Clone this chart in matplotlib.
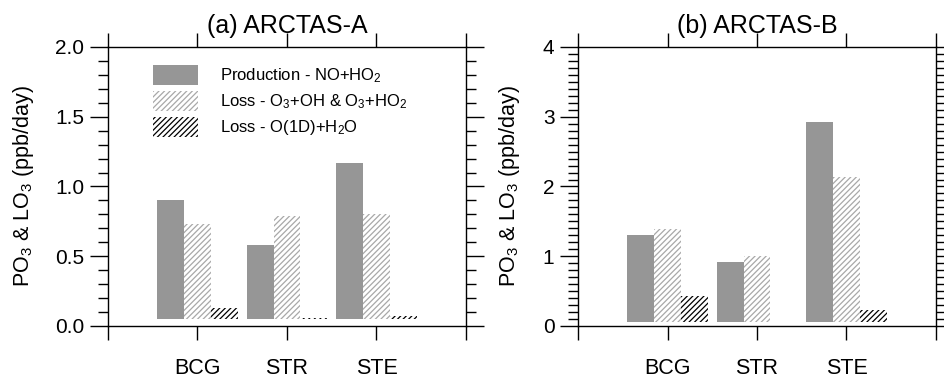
import numpy as np
import matplotlib
matplotlib.use('Agg')
import matplotlib.pyplot as plt
from matplotlib.patches import Patch
from matplotlib.ticker import MultipleLocator

plt.rcParams['font.family'] = ['Liberation Sans', 'DejaVu Sans']
plt.rcParams['mathtext.default'] = 'regular'
plt.rcParams['hatch.linewidth'] = 0.9

# data (bar tops, ppb/day)
regions = ['BCG', 'STR', 'STE']
prod_a = [0.90, 0.58, 1.17]
loss1_a = [0.73, 0.79, 0.80]
loss2_a = [0.13, 0.06, 0.07]
prod_b = [1.31, 0.92, 2.92]
loss1_b = [1.39, 1.00, 2.14]
loss2_b = [0.43, 0.06, 0.23]
titles = ['(a) ARCTAS-A', '(b) ARCTAS-B']
legend_labels = ['Production - NO+HO$_2$',
                 'Loss - O$_3$+OH & O$_3$+HO$_2$',
                 'Loss - O(1D)+H$_2$O']

base = 0.05   # bars in the original sit slightly above zero
w = 0.3
gray = '#969696'
hatch_gray = '#a8a8a8'
hatch = '//////'

fig = plt.figure(figsize=(9.44, 3.81), dpi=100)
ax_a = fig.add_axes([0.1144, 0.1444, 0.3792, 0.7323])
ax_b = fig.add_axes([0.6123, 0.1444, 0.3792, 0.7323])


def draw(ax, prod, loss1, loss2, title, ymax, major, ylab_x, fmt):
    x = np.arange(1, len(regions) + 1)
    ax.bar(x - w, np.array(prod) - base, w, bottom=base, color=gray, lw=0)
    ax.bar(x, np.array(loss1) - base, w, bottom=base, color='none', edgecolor=hatch_gray,
           hatch=hatch, lw=0)
    ax.bar(x + w, np.array(loss2) - base, w, bottom=base, color='none', edgecolor='black',
           hatch=hatch, lw=0)

    ax.set_xlim(0, 4)
    ax.set_ylim(0, ymax)
    ax.set_xticks([0, 1, 2, 3, 4])
    ax.set_xticklabels([''] + regions + [''], fontsize=15.5)
    ax.yaxis.set_major_locator(MultipleLocator(major))
    ax.yaxis.set_minor_locator(MultipleLocator(0.1))
    ax.yaxis.set_major_formatter(fmt)

    ax.tick_params(axis='x', which='major', direction='out', length=10, width=1,
                   top=True, bottom=True, pad=13)
    ax.tick_params(axis='y', which='major', direction='out', length=13, width=1,
                   left=True, right=True, labelsize=15, pad=4)
    ax.tick_params(axis='y', which='minor', direction='out', length=7, width=1,
                   left=True, right=True)
    for s in ax.spines.values():
        s.set_linewidth(1.0)

    ax.set_ylabel('PO$_3$ & LO$_3$ (ppb/day)', fontsize=15.5)
    ax.yaxis.set_label_coords(ylab_x, 0.5)
    ax.set_title(title, fontsize=18, pad=10)


draw(ax_a, prod_a, loss1_a, loss2_a, titles[0], 2.0, 0.5, -0.20, '{x:.1f}')
draw(ax_b, prod_b, loss1_b, loss2_b, titles[1], 4.0, 1.0, -0.156, '{x:.0f}')

handles = [Patch(facecolor=gray, lw=0),
           Patch(facecolor='none', edgecolor=hatch_gray, hatch=hatch, lw=0),
           Patch(facecolor='none', edgecolor='black', hatch=hatch, lw=0)]
ax_a.legend(handles, legend_labels, loc='upper left', bbox_to_anchor=(0.126, 0.935),
            frameon=False, fontsize=12, handlelength=2.7, handleheight=1.45,
            labelspacing=0.35, handletextpad=1.3, borderpad=0, borderaxespad=0)

fig.savefig('out.png', dpi=100)
